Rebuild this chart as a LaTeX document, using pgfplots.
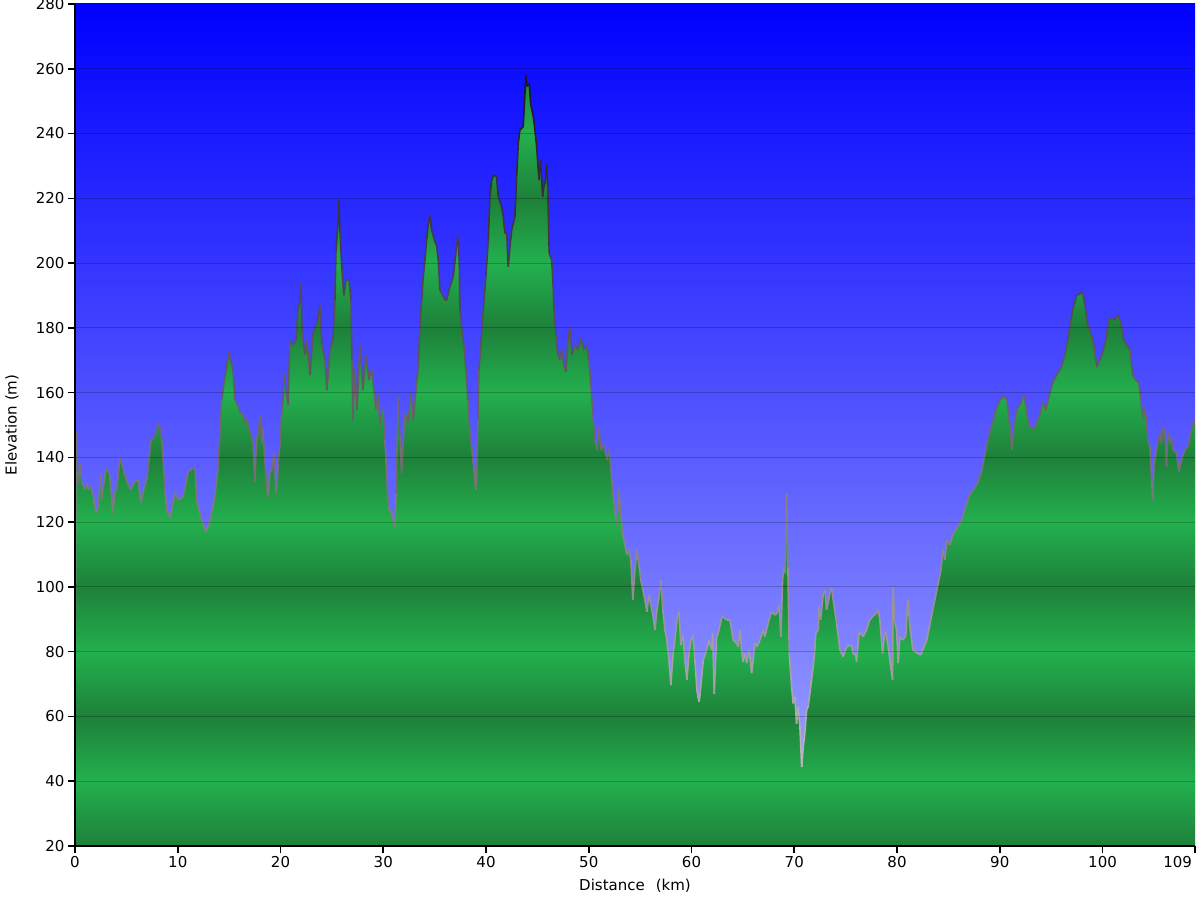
\documentclass[border=0pt]{standalone}
\usepackage{fontspec}
\setmainfont{DejaVu Sans}
\usepackage{pgfplots}
\usepackage{pgfplotstable}
\pgfplotsset{compat=1.18}
\definecolor{skytop}{RGB}{0,0,255}
\definecolor{skybot}{RGB}{168,172,255}
\definecolor{gdark}{RGB}{30,128,58}
\definecolor{glight}{RGB}{35,176,78}
\pgfdeclareverticalshading{sky}{100bp}{color(0bp)=(skybot); color(25bp)=(skybot); color(75bp)=(skytop); color(100bp)=(skytop)}
\pgfdeclareverticalshading{bands}{100bp}{color(0bp)=(gdark); color(25bp)=(gdark);
 color(28.846bp)=(glight); color(32.692bp)=(gdark); color(36.538bp)=(glight); color(40.385bp)=(gdark);
 color(44.231bp)=(glight); color(48.077bp)=(gdark); color(51.923bp)=(glight); color(55.769bp)=(gdark);
 color(59.615bp)=(glight); color(63.462bp)=(gdark); color(67.308bp)=(glight); color(71.154bp)=(gdark);
 color(75bp)=(glight); color(100bp)=(glight)}

\pgfplotstableread{
km elev
0 65
0.10 148
0.32 132
0.49 138
0.65 132.4
0.97 130
1.14 132
1.29 130
1.53 131
1.78 128
2.04 123
2.27 124.7
2.50 135
2.60 127
3.02 136.7
3.34 135
3.57 128
3.67 122.8
3.89 129.4
4.06 130
4.38 139.8
4.70 136
5.19 131.5
5.42 130
5.84 132.5
6.16 133
6.39 125.9
6.65 129.4
7.04 134
7.40 145.4
7.69 145.7
8.17 150.6
8.44 146
8.76 130
8.92 123.8
9.24 121.3
9.41 123.8
9.73 129
10.05 126.8
10.54 127.9
11.02 135.5
11.58 136.7
11.68 136.7
11.84 126.8
12.33 120.6
12.75 117
13.14 120.6
13.62 127.9
13.94 137
14.27 157.7
14.60 165
14.98 172.5
15.37 167
15.57 157.7
15.73 156.8
16.06 154
16.38 153
16.54 150.5
16.71 152
17.03 147.9
17.19 146.4
17.35 143.3
17.51 132.4
17.68 146.4
17.84 147
18.00 153
18.17 144.3
18.26 149.5
18.65 130.9
18.81 127.9
18.97 136
19.14 135.5
19.36 141.2
19.56 128.9
19.68 132
19.78 138.1
19.95 144.3
20.11 153.6
20.27 158
20.34 166
20.53 160
20.73 156.2
20.92 176.2
21.21 174.7
21.50 176
21.70 185.5
21.89 188
21.99 193.8
22.09 179.3
22.38 171.6
22.57 176.2
22.87 165.4
23.16 177.8
23.35 180
23.65 182.4
23.84 187
24.03 174.7
24.33 170.1
24.52 160.8
24.81 173.2
25.10 176.2
25.30 188.6
25.40 204
25.59 211.8
25.69 219.5
25.78 210.2
25.98 197.9
26.17 190.1
26.37 194.8
26.66 194.8
26.86 188.6
26.95 170.1
27.05 151.5
27.25 167
27.44 154.6
27.73 174.7
28.02 160.8
28.32 171.6
28.61 163.9
28.90 167
29.09 160.8
29.29 154.6
29.48 159.3
29.68 150
29.87 154.6
30.00 155
30.16 145.4
30.49 124.8
30.82 122.7
31.14 118.6
31.24 128.9
31.46 158.7
31.62 146.4
31.79 135.1
32.11 153.6
32.43 150.5
32.66 159.8
32.92 151.5
33.25 162.9
33.40 168
33.57 180.3
33.74 188.6
33.89 195.8
34.06 201
34.22 207.1
34.38 211.8
34.54 214.8
34.71 210.2
35.03 206.6
35.19 205.6
35.35 201
35.52 191.7
35.68 190.7
36.00 188.6
36.17 188.6
36.49 192.7
36.81 195.8
37.14 205
37.30 208.1
37.39 201
37.46 185.5
37.66 179.3
37.85 174.7
38.05 167
38.24 157.7
38.43 148.5
38.63 142.3
38.82 136.1
39.02 129.9
39.12 136
39.21 151.5
39.31 167
39.51 174.7
39.73 185.5
39.99 195.8
40.22 207.1
40.38 220.5
40.55 225.6
40.77 227.2
41.03 226.7
41.19 220.5
41.52 217.4
41.68 214.3
41.84 209.2
42.01 209.7
42.16 198.9
42.33 205
42.50 210.2
42.81 214.3
42.98 226.7
43.14 237
43.30 241.1
43.62 242.1
43.79 252.4
43.88 258.1
44.01 254.5
44.21 255.5
44.34 249.3
44.60 245.2
44.76 241.1
44.93 235.9
45.08 228.7
45.18 225.6
45.31 231.8
45.51 220.5
45.64 223.6
45.80 225.6
45.90 230.8
46.00 223.6
46.15 203
46.39 201
46.54 192.7
46.61 185.5
46.80 177.8
47.00 171.6
47.19 170.1
47.39 173.2
47.58 168.5
47.78 166.4
47.97 176.2
48.17 180
48.36 171.6
48.65 174.7
48.94 173.2
49.24 176.9
49.53 173.2
49.82 174.7
50.01 170.1
50.21 162.3
50.40 153.1
50.60 145.4
50.79 142.3
50.99 149
51.18 142.3
51.47 143.8
51.77 139.2
51.96 142.3
52.16 136.1
52.35 128.4
52.54 123.8
52.74 119.1
52.93 129.9
53.13 122.2
53.32 116
53.52 112.9
53.71 109.9
53.90 111.4
54.10 108.3
54.29 96
54.49 105.2
54.68 111.4
54.88 106.8
55.07 102.1
55.27 99
55.46 96
55.66 92.3
55.85 97.5
56.05 94.4
56.24 91.3
56.44 86.7
56.63 92.9
56.83 96.6
57.02 102.1
57.21 92.9
57.41 86.7
57.60 83.6
57.80 77.4
57.99 69.7
58.19 79
58.38 83.6
58.58 89.8
58.77 92.3
58.97 82
59.16 85.1
59.36 77.4
59.55 71.3
59.74 79
59.94 83.6
60.13 85
60.33 77.4
60.52 68.2
60.72 64.5
60.81 66
61.14 77.4
61.47 80.5
61.72 83.6
61.95 80.5
62.05 85.7
62.21 67
62.44 84.6
62.60 85.7
62.93 90.4
63.08 90.8
63.41 89.8
63.74 89.8
64.05 83.6
64.39 82.6
64.54 81.5
64.71 86.7
64.87 80.5
65.03 76.9
65.19 79.6
65.36 76.5
65.61 80.5
65.85 73.4
66.00 77.4
66.17 82.6
66.39 81.5
66.65 83.6
66.98 86.7
67.14 84.6
67.46 88.8
67.79 92.3
68.11 91.3
68.34 91.9
68.53 94.4
68.70 84.6
68.86 102
68.99 106.2
69.12 104.2
69.25 128.9
69.38 106
69.51 79.4
69.74 69.2
69.89 64
70.06 66
70.22 57.8
70.38 63
70.55 56.8
70.72 44.4
70.87 50.6
71.03 54.8
71.20 62
71.35 63
71.68 71.3
71.84 75.4
72.00 80.5
72.10 85.7
72.33 86.7
72.42 93.9
72.56 89.8
72.81 97.5
72.98 99
73.14 92.9
73.30 94.9
73.46 98
73.63 99.6
73.79 96
74.12 88.8
74.44 80.5
74.76 78.5
75.09 81.5
75.58 82
75.73 79.4
75.99 79
76.06 76.9
76.32 86.2
76.70 84.6
77.03 86.7
77.35 89.8
77.62 90.8
78.01 91.9
78.16 92.9
78.33 89.8
78.59 79.4
78.75 84.6
78.89 86.2
79.14 81.5
79.30 77.4
79.57 71.3
79.62 100
79.79 88.8
79.95 86.7
80.11 76.5
80.28 84.6
80.57 83.6
80.86 85
81.05 96
81.25 88
81.54 80.5
81.93 79.6
82.32 79
82.61 81.5
82.90 83.6
83.19 88.3
83.48 92.9
83.78 97.5
84.07 102.1
84.27 105.2
84.46 111.4
84.66 108.3
84.85 114.5
85.14 113
85.43 116
85.73 117.5
86.02 119.1
86.31 120.7
86.60 123.8
86.89 126.8
87.18 129.3
87.57 130.5
87.87 132.4
88.26 136.1
88.55 140.7
88.84 145.4
89.23 150
89.62 154.6
90.01 157.7
90.40 158.9
90.69 157.7
90.98 150
91.18 142.3
91.37 149
91.66 154.6
92.05 156.8
92.34 159.2
92.53 156
92.83 150
93.22 148.5
93.51 150
93.90 153.1
94.19 157.1
94.48 154.6
94.77 158.3
95.07 162.3
95.36 164.5
95.65 166.1
96.04 168.2
96.33 171.6
96.62 176.2
96.91 182.4
97.21 187
97.50 190.1
97.79 190.4
98.08 191.1
98.28 187
98.57 180.9
98.86 178.7
99.15 174.7
99.45 167.9
99.74 170
100.03 172.5
100.32 176.2
100.61 182.4
100.90 183
101.20 182.4
101.49 184
101.78 181.8
102.07 176.2
102.37 174.7
102.66 173.2
102.95 165.4
103.24 163.9
103.53 163
103.73 157.7
103.92 152
104.12 155
104.28 151.5
104.41 144.4
104.60 143.8
104.77 133
104.89 126.8
104.99 137
105.25 142.3
105.38 144.4
105.57 147.5
105.74 144.4
105.86 148.5
106.06 149.1
106.22 137
106.35 147.5
106.55 144.4
106.71 146.3
106.84 142.3
107.20 141.3
107.42 135.5
107.62 138.3
108.01 142.3
108.30 143.2
108.66 148.5
108.88 151.5
109.00 150
}\profile

% closed outline for the filled area: top-left corner, profile, bottom corners
\pgfplotstableread{
km elev
0 280
}\filltab
\pgfplotstablevertcat{\filltab}{\profile}
\pgfplotstableread{
km elev
109 20
0 20
}\filltail
\pgfplotstablevertcat{\filltab}{\filltail}

\begin{document}
\begin{tikzpicture}
\begin{axis}[
  scale only axis,
  width=1120bp, height=842bp,
  xmin=0, xmax=109, ymin=20, ymax=280,
  xtick={0,10,20,30,40,50,60,70,80,90,100,109},
  xticklabels={0,10,20,30,40,50,60,70,80,90,100,\makebox[0pt][r]{109\hspace{3bp}}},
  ytick={20,40,...,280},
  axis x line*=bottom, axis y line*=left,
  axis line style={-, line width=2.6bp, black},
  tick align=outside,
  major tick length=7bp,
  every tick/.style={black, line width=1.6bp},
  ymajorgrids,
  grid style={black, opacity=0.22, line width=1bp},
  axis on top,
  axis background/.style={shade, shading=sky},
  /pgf/number format/assume math mode=true,
  tick label style={font=\fontsize{15bp}{18bp}\selectfont, black},
  label style={font=\fontsize{15bp}{18bp}\selectfont, black},
  xlabel={Distance\hspace{11bp}(km)},
  ylabel={Elevation (m)},
  xlabel style={at={(axis description cs:0.5,-0.0475)}, anchor=center},
  ylabel style={at={(axis description cs:-0.0563,0.5)}, anchor=center},
  colormap={outline}{rgb255=(192,187,192) rgb255=(28,20,30)},
  point meta min=40, point meta max=260,
]
\addplot[shade, shading=bands, draw=none, no markers] table[x=km, y=elev] {\filltab};
\addplot[mesh, point meta=y, line width=1.6bp, no markers] table[x=km, y=elev] {\profile};
\end{axis}
\pgfresetboundingbox
\path[use as bounding box] (current axis.south west) ++(-75bp,-54bp) rectangle ++(1200bp,900bp);
\end{tikzpicture}
\end{document}
